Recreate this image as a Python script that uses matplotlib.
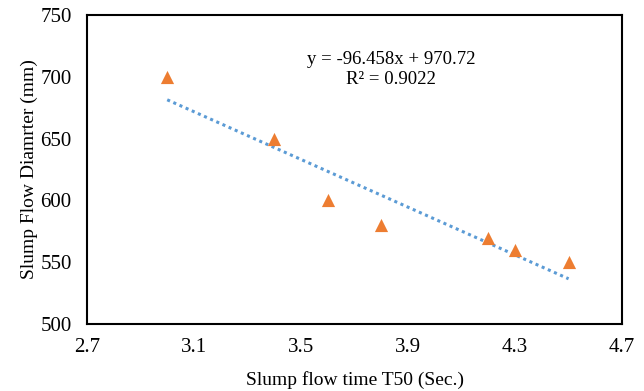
import numpy as np
import matplotlib
matplotlib.use("Agg")
import matplotlib.pyplot as plt

plt.rcParams['font.family'] = ['Liberation Serif', 'DejaVu Serif']

# data
t50 = [3.0, 3.4, 3.6, 3.8, 4.2, 4.3, 4.5]
diameter = [700, 650, 600, 580, 570, 560, 550]
x_ticks = [2.7, 3.1, 3.5, 3.9, 4.3, 4.7]
y_ticks = [500, 550, 600, 650, 700, 750]

# linear trendline
slope, intercept = np.polyfit(t50, diameter, 1)
xs = np.array([min(t50), max(t50)])
ys = slope * xs + intercept

fig = plt.figure(figsize=(6.44, 3.91), dpi=100)
ax = fig.add_axes([0.135, 0.171, 0.831, 0.791])

ax.plot(xs, ys, linestyle=(0, (1, 1.2)), color='#5B9BD5', linewidth=2.2, zorder=2)
ax.scatter(t50, diameter, marker='^', s=90, color='#ED7D31', zorder=3, linewidths=0)

ax.set_xlim(2.7, 4.7)
ax.set_ylim(500, 750)
ax.set_xticks(x_ticks)
ax.set_xticklabels(["%.1f" % v for v in x_ticks])
ax.set_yticks(y_ticks)
ax.tick_params(length=0, labelsize=15)
ax.tick_params(axis='x', pad=10)
ax.tick_params(axis='y', pad=11)
for s in ax.spines.values():
    s.set_linewidth(1.5)
    s.set_color('black')

ax.set_xlabel("Slump flow time T50 (Sec.)", fontsize=14, labelpad=10)
ax.set_ylabel("Slump Flow Diamrter (mm)", fontsize=14, labelpad=2)

ax.text(3.836, 706, "y = -96.458x + 970.72\nR² = 0.9022", fontsize=13.5,
        ha='center', va='center', linespacing=1.2)

fig.savefig("out.png", dpi=100)
